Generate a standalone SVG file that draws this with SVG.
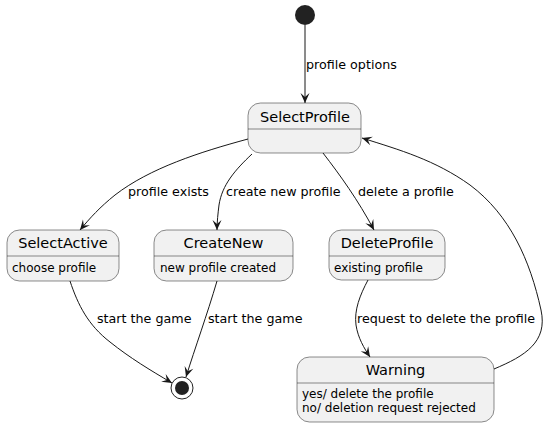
<svg xmlns="http://www.w3.org/2000/svg" width="555" height="426" viewBox="0 0 555 426">
<style>
.box{fill:#F1F1F1;stroke:#181818;stroke-width:0.5}
.sep{stroke:#181818;stroke-width:0.5}
.t{font-family:"DejaVu Sans",sans-serif;font-size:14.5px;fill:#000;text-anchor:middle}
.d{font-family:"DejaVu Sans",sans-serif;font-size:12px;fill:#000}
.l{font-family:"DejaVu Sans",sans-serif;font-size:12.7px;fill:#000}
.e{fill:none;stroke:#181818;stroke-width:1;marker-end:url(#ah)}
</style>
<defs>
<marker id="ah" markerUnits="userSpaceOnUse" viewBox="-1 -6 12 12" refX="10" refY="0" markerWidth="12" markerHeight="12" orient="auto">
<path d="M0,-4.5 L10,0 L0,4.5 L4,0 Z" fill="#181818"/>
</marker>
</defs>
<g id="start"><circle cx="305" cy="15" r="10" fill="#222222"/></g>
<g id="end"><circle cx="182" cy="388" r="11" fill="none" stroke="#222222" stroke-width="1"/><circle cx="182" cy="388" r="7" fill="#222222"/></g>
<g id="SelectProfile">
<rect class="box" x="248" y="103" width="113" height="50" rx="12.5"/>
<line class="sep" x1="248" y1="129" x2="361" y2="129"/>
<text class="t" x="305" y="122">SelectProfile</text>
</g>
<g id="SelectActive">
<rect class="box" x="7" y="230" width="112" height="51" rx="12.5"/>
<line class="sep" x1="7" y1="256" x2="119" y2="256"/>
<text class="t" x="63" y="248">SelectActive</text>
<text class="d" x="12" y="272">choose profile</text>
</g>
<g id="CreateNew">
<rect class="box" x="154" y="230" width="139" height="51" rx="12.5"/>
<line class="sep" x1="154" y1="256" x2="293" y2="256"/>
<text class="t" x="223.5" y="248">CreateNew</text>
<text class="d" x="160" y="272">new profile created</text>
</g>
<g id="DeleteProfile">
<rect class="box" x="329" y="230" width="116" height="50" rx="12.5"/>
<line class="sep" x1="329" y1="256" x2="445" y2="256"/>
<text class="t" x="387" y="248">DeleteProfile</text>
<text class="d" x="334" y="272">existing profile</text>
</g>
<g id="Warning">
<rect class="box" x="297" y="357" width="197" height="65" rx="12.5"/>
<line class="sep" x1="297" y1="383" x2="494" y2="383"/>
<text class="t" x="395.5" y="375">Warning</text>
<text class="d" x="302" y="398">yes/ delete the profile</text>
<text class="d" x="302" y="412">no/ deletion request rejected</text>
</g>
<g id="connectors">
<path class="e" d="M305,25 L305,103"/>
<text class="l" x="306" y="69">profile options</text>
<path class="e" d="M248,139 C200,152 150,168 115,195 C100,207 90,218 80,230"/>
<text class="l" x="128" y="196">profile exists</text>
<path class="e" d="M252,154 C235,170 222,185 219,205 C218,213 217,222 217,230"/>
<text class="l" x="226" y="196">create new profile</text>
<path class="e" d="M323,153 C340,175 358,200 374,230"/>
<text class="l" x="358" y="196">delete a profile</text>
<path class="e" d="M368,280 C360,295 354,310 356,325 C358,338 364,348 370,357"/>
<text class="l" x="357" y="323">request to delete the profile</text>
<path class="e" d="M494,369 C525,356 548,342 541,310 C530,260 510,215 470,185 C435,160 400,150 362,138"/>
<path class="e" d="M70,281 C78,305 88,325 110,342 C130,358 150,370 172,383"/>
<text class="l" x="97" y="323">start the game</text>
<path class="e" d="M217,281 C207,315 195,348 186,377"/>
<text class="l" x="208" y="323">start the game</text>
</g>
</svg>
